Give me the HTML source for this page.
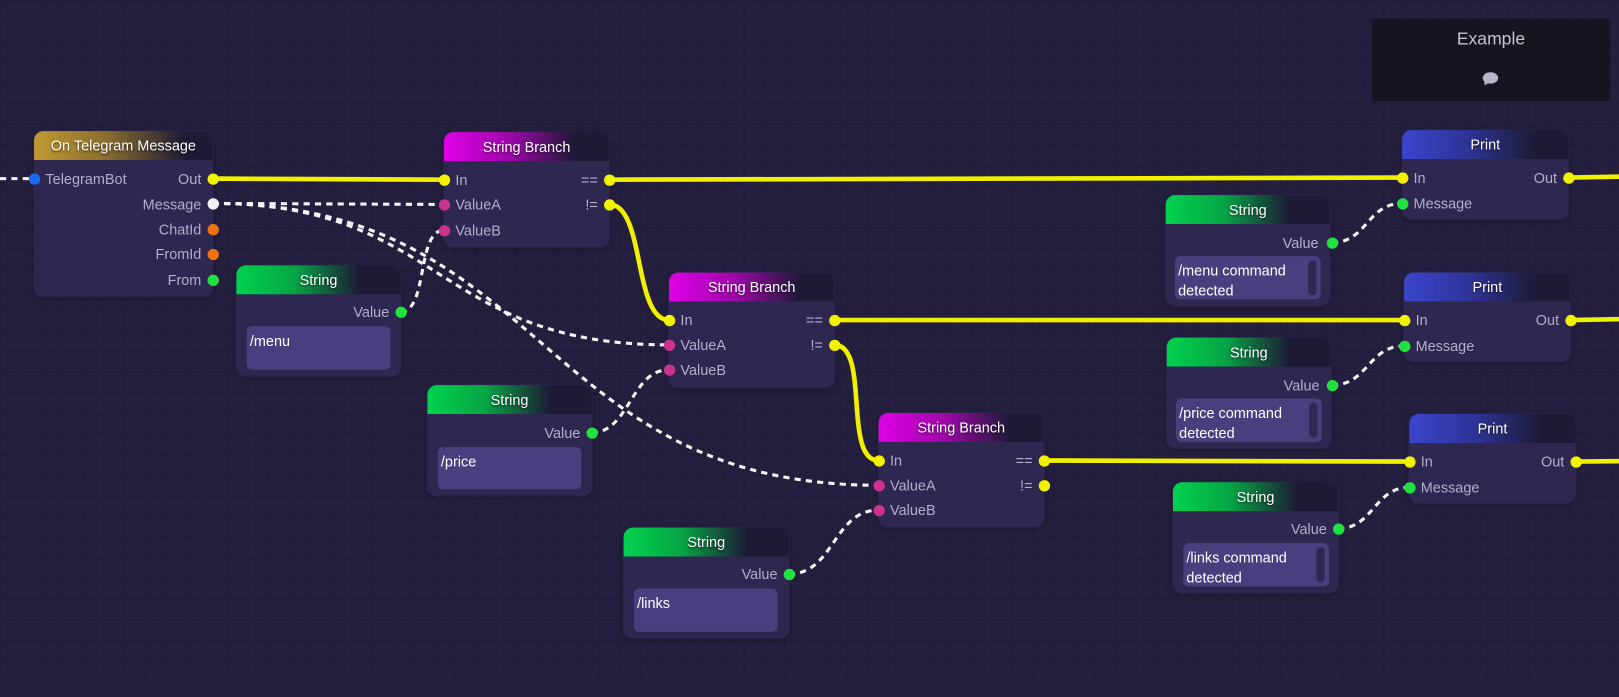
<!DOCTYPE html>
<html><head><meta charset="utf-8"><style>
html,body{margin:0;padding:0}
body{width:1619px;height:675px;overflow:hidden;position:relative;font-family:"Liberation Sans",sans-serif;background-color:#241f3e;}
#wrap{position:absolute;left:0;top:0;width:1568px;height:654px;transform:scale(1.03253);transform-origin:0 0;
background-image:linear-gradient(rgba(0,0,0,0.12) 1px,transparent 1px),linear-gradient(90deg,rgba(0,0,0,0.12) 1px,transparent 1px);
background-size:20px 20px;}
.n{position:absolute;background:#2e2750;border-radius:9px;box-shadow:0 0 0 1px #2a2348,0 2px 6px rgba(0,0,0,0.3)}
.h{height:28px;border-radius:9px 9px 0 0;color:#fff;font-size:14px;line-height:29px;text-align:center;text-shadow:0 1px 2px rgba(0,0,0,.6)}
.g{background:linear-gradient(90deg,#00d24e 0%,#07a545 35%,#1c1a34 75%,#1c1a34 100%)}
.m{background:linear-gradient(90deg,#e000e6 0%,#9d07a8 40%,#1c1a34 80%,#1c1a34 100%)}
.b{background:linear-gradient(90deg,#3a45cc 0%,#2e3396 40%,#1c1a34 80%,#1c1a34 100%)}
.o{background:linear-gradient(90deg,#c19a32 0%,#8a6e2e 40%,#1c1a34 85%,#1c1a34 100%)}
.l{position:absolute;font-size:14px;color:#b3aec9;line-height:16px;white-space:nowrap}
.r{text-align:right}
.p{position:absolute;width:11px;height:11px;border-radius:50%;margin:-5.5px 0 0 -5.5px}
.y{background:#f2f200}.gr{background:#1fe23f}.pk{background:#c9328d}.w{background:#f0f0f0}.or{background:#f0720c}.bl{background:#1a6af0}
.tb{position:absolute;background:#4a3f7e;border-radius:5px;color:#fff;font-size:14px;line-height:19px;padding:5px 3px;box-sizing:border-box}
.sb{position:absolute;right:4px;top:4px;bottom:4px;width:8px;border-radius:4px;background:#2f2852}
svg{position:absolute;left:0;top:0}
</style></head><body><div id="wrap">
<svg width="1619" height="675">
<g fill="none" stroke="#f0f000" stroke-width="4.5" stroke-linecap="round">
<path d="M206 173 L430 174"/>
<path d="M590 174 L1358 172"/>
<path d="M590 198 C625 198,613 310,648 310"/>
<path d="M808 310 L1360 310"/>
<path d="M808 334 C843 334,816 446,851 446"/>
<path d="M1011 446 L1365 447"/>
<path d="M1519 172 L1625 170"/>
<path d="M1521 310 L1625 308"/>
<path d="M1526 447 L1625 446"/>
</g>
<g fill="none" stroke="#f5f5f5" stroke-width="3" stroke-dasharray="6 5">
<path d="M0 173 L33 173"/>
<path d="M206 197 L430 198"/>
<path d="M206 197 C430 197,420 334,648 334"/>
<path d="M206 197 C530 197,520 470,851 470"/>
<path d="M388 302 C415 302,403 223,430 223"/>
<path d="M573 419 C610 419,611 358,648 358"/>
<path d="M764 556 C808 556,807 494,851 494"/>
<path d="M1290 235 C1324 235,1324 197,1358 197"/>
<path d="M1290 373 C1325 373,1325 335,1360 335"/>
<path d="M1296 512 C1330 512,1331 472,1365 472"/>
</g>
</svg>

<div style="position:absolute;left:1329px;top:18px;width:230px;height:80px;background:#17131f;color:#c6c2d6;font-size:17px;text-align:center">
<div style="margin-top:10px">Example</div>
<div style="position:absolute;left:107px;top:52px;width:15px;height:11px;border-radius:50%;background:#b9b5c8"></div>
<div style="position:absolute;left:107px;top:60px;width:0;height:0;border-left:3px solid transparent;border-right:3px solid transparent;border-top:5px solid #b9b5c8;transform:rotate(25deg)"></div>
</div>

<div class="n" style="left:33px;top:127px;width:173px;height:160px">
<div class="h o">On Telegram Message</div>
<div class="l" style="left:11px;top:38px">TelegramBot</div>
<div class="l r" style="right:11px;top:38px">Out</div>
<div class="l r" style="right:11px;top:63px">Message</div>
<div class="l r" style="right:11px;top:87px">ChatId</div>
<div class="l r" style="right:11px;top:111px">FromId</div>
<div class="l r" style="right:11px;top:136px">From</div>
<div class="p bl" style="left:0;top:46px"></div>
<div class="p y" style="left:173px;top:46px"></div>
<div class="p w" style="left:173px;top:70px"></div>
<div class="p or" style="left:173px;top:95px"></div>
<div class="p or" style="left:173px;top:119px"></div>
<div class="p gr" style="left:173px;top:144px"></div>
</div>

<div class="n" style="left:430px;top:128px;width:160px;height:111px">
<div class="h m">String Branch</div>
<div class="l" style="left:11px;top:38px">In</div>
<div class="l" style="left:11px;top:62px">ValueA</div>
<div class="l" style="left:11px;top:87px">ValueB</div>
<div class="l r" style="right:11px;top:38px">==</div>
<div class="l r" style="right:11px;top:62px">!=</div>
<div class="p y" style="left:0;top:46px"></div>
<div class="p pk" style="left:0;top:70px"></div>
<div class="p pk" style="left:0;top:95px"></div>
<div class="p y" style="left:160px;top:46px"></div>
<div class="p y" style="left:160px;top:70px"></div>
</div>

<div class="n" style="left:648px;top:264px;width:160px;height:111px">
<div class="h m">String Branch</div>
<div class="l" style="left:11px;top:38px">In</div>
<div class="l" style="left:11px;top:62px">ValueA</div>
<div class="l" style="left:11px;top:86px">ValueB</div>
<div class="l r" style="right:11px;top:38px">==</div>
<div class="l r" style="right:11px;top:62px">!=</div>
<div class="p y" style="left:0;top:46px"></div>
<div class="p pk" style="left:0;top:70px"></div>
<div class="p pk" style="left:0;top:94px"></div>
<div class="p y" style="left:160px;top:46px"></div>
<div class="p y" style="left:160px;top:70px"></div>
</div>

<div class="n" style="left:851px;top:400px;width:160px;height:110px">
<div class="h m">String Branch</div>
<div class="l" style="left:11px;top:38px">In</div>
<div class="l" style="left:11px;top:62px">ValueA</div>
<div class="l" style="left:11px;top:86px">ValueB</div>
<div class="l r" style="right:11px;top:38px">==</div>
<div class="l r" style="right:11px;top:62px">!=</div>
<div class="p y" style="left:0;top:46px"></div>
<div class="p pk" style="left:0;top:70px"></div>
<div class="p pk" style="left:0;top:94px"></div>
<div class="p y" style="left:160px;top:46px"></div>
<div class="p y" style="left:160px;top:70px"></div>
</div>

<div class="n" style="left:229px;top:257px;width:159px;height:107px">
<div class="h g">String</div>
<div class="l r" style="right:11px;top:37px">Value</div>
<div class="p gr" style="left:159px;top:45px"></div>
<div class="tb" style="left:10px;top:59px;width:139px;height:42px">/menu</div>
</div>
<div class="n" style="left:414px;top:373px;width:159px;height:107px">
<div class="h g">String</div>
<div class="l r" style="right:11px;top:38px">Value</div>
<div class="p gr" style="left:159px;top:46px"></div>
<div class="tb" style="left:10px;top:60px;width:139px;height:41px">/price</div>
</div>
<div class="n" style="left:604px;top:511px;width:160px;height:107px">
<div class="h g">String</div>
<div class="l r" style="right:11px;top:37px">Value</div>
<div class="p gr" style="left:160px;top:45px"></div>
<div class="tb" style="left:10px;top:59px;width:139px;height:42px">/links</div>
</div>

<div class="n" style="left:1129px;top:189px;width:159px;height:107px">
<div class="h g">String</div>
<div class="l r" style="right:11px;top:38px">Value</div>
<div class="p gr" style="left:161px;top:46px"></div>
<div class="tb" style="left:9px;top:59px;width:141px;height:42px;padding-right:20px">/menu command detected<div class="sb"></div></div>
</div>
<div class="n" style="left:1130px;top:327px;width:159px;height:107px">
<div class="h g">String</div>
<div class="l r" style="right:11px;top:38px">Value</div>
<div class="p gr" style="left:160px;top:46px"></div>
<div class="tb" style="left:9px;top:59px;width:141px;height:42px;padding-right:20px">/price command detected<div class="sb"></div></div>
</div>
<div class="n" style="left:1136px;top:467px;width:160px;height:107px">
<div class="h g">String</div>
<div class="l r" style="right:11px;top:37px">Value</div>
<div class="p gr" style="left:160px;top:45px"></div>
<div class="tb" style="left:10px;top:59px;width:141px;height:42px;padding-right:20px">/links command detected<div class="sb"></div></div>
</div>

<div class="n" style="left:1358px;top:126px;width:161px;height:86px">
<div class="h b">Print</div>
<div class="l" style="left:11px;top:38px">In</div>
<div class="l" style="left:11px;top:63px">Message</div>
<div class="l r" style="right:11px;top:38px">Out</div>
<div class="p y" style="left:0;top:46px"></div>
<div class="p gr" style="left:0;top:71px"></div>
<div class="p y" style="left:161px;top:46px"></div>
</div>
<div class="n" style="left:1360px;top:264px;width:161px;height:86px">
<div class="h b">Print</div>
<div class="l" style="left:11px;top:38px">In</div>
<div class="l" style="left:11px;top:63px">Message</div>
<div class="l r" style="right:11px;top:38px">Out</div>
<div class="p y" style="left:0;top:46px"></div>
<div class="p gr" style="left:0;top:71px"></div>
<div class="p y" style="left:161px;top:46px"></div>
</div>
<div class="n" style="left:1365px;top:401px;width:161px;height:86px">
<div class="h b">Print</div>
<div class="l" style="left:11px;top:38px">In</div>
<div class="l" style="left:11px;top:63px">Message</div>
<div class="l r" style="right:11px;top:38px">Out</div>
<div class="p y" style="left:0;top:46px"></div>
<div class="p gr" style="left:0;top:71px"></div>
<div class="p y" style="left:161px;top:46px"></div>
</div>
</div></body></html>
